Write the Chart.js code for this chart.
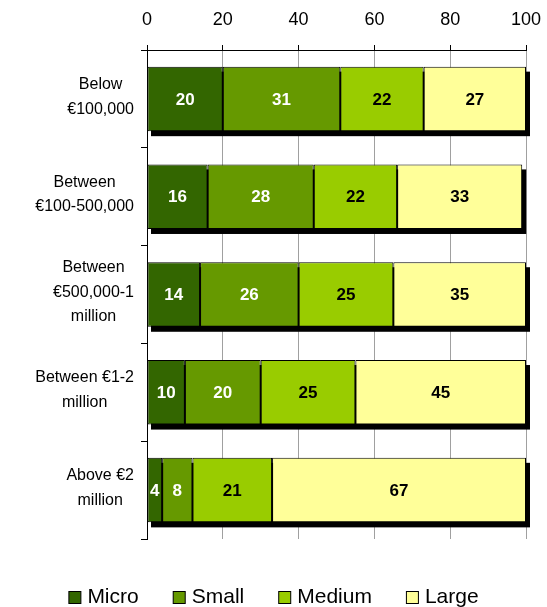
<!DOCTYPE html>
<html lang="en">
<head>
<meta charset="UTF-8">
<title>Company size by turnover</title>
<script src="https://cdn.jsdelivr.net/npm/chart.js"></script>
<style>
    body { margin: 0; background: #ffffff; }
    #wrap { width: 547px; height: 607px; }
</style>
</head>
<body>
<div id="wrap"><canvas id="sizeChart" width="547" height="607"></canvas></div>
<script>
// turnover bands (multi-line labels)
const bands = [
    ['Below', '€100,000'],
    ['Between', '€100-500,000'],
    ['Between', '€500,000-1', 'million'],
    ['Between €1-2', 'million'],
    ['Above €2', 'million']
];
const sizeNames = ['Micro', 'Small', 'Medium', 'Large'];
const micro  = [20, 16, 14, 10, 4];
const small  = [31, 28, 26, 20, 8];
const medium = [22, 22, 25, 25, 21];
const large  = [27, 33, 35, 45, 67];

const fills = ['#336600', '#669900', '#99cc00', '#ffff99'];
const labelColors = ['#ffffff', '#ffffff', '#000000', '#000000'];
const FONT = '"Liberation Sans", Arial, sans-serif';

// black drop shadow behind each stacked bar
const barShadow = {
    id: 'barShadow',
    beforeDatasetsDraw(chart) {
        const ctx = chart.ctx;
        const xs = chart.scales.x;
        const first = chart.getDatasetMeta(0);
        ctx.save();
        ctx.fillStyle = '#000000';
        first.data.forEach((bar, i) => {
            let total = 0;
            chart.data.datasets.forEach(ds => { total += ds.data[i]; });
            const x0 = xs.getPixelForValue(0);
            const x1 = xs.getPixelForValue(total);
            const h = bar.height;
            ctx.fillRect(x0 + 4, bar.y - h / 2 + 5, x1 - x0, h);
        });
        ctx.restore();
    }
};

// value written in the middle of each segment
const segmentLabels = {
    id: 'segmentLabels',
    afterDatasetsDraw(chart) {
        const ctx = chart.ctx;
        ctx.save();
        ctx.font = 'bold 17px ' + FONT;
        ctx.textAlign = 'center';
        ctx.textBaseline = 'middle';
        chart.data.datasets.forEach((ds, d) => {
            const meta = chart.getDatasetMeta(d);
            ctx.fillStyle = labelColors[d];
            meta.data.forEach((bar, i) => {
                const mid = (bar.x + bar.base) / 2;
                ctx.fillText(String(ds.data[i]), mid, bar.y + 1);
            });
        });
        ctx.restore();
    }
};

// percentage ticks above the top axis line
const topTicks = {
    id: 'topTicks',
    afterDraw(chart) {
        const ctx = chart.ctx;
        const xs = chart.scales.x;
        ctx.save();
        ctx.font = '18px ' + FONT;
        ctx.fillStyle = '#000000';
        ctx.textAlign = 'center';
        ctx.textBaseline = 'middle';
        xs.ticks.forEach(t => {
            ctx.fillText(String(t.value), xs.getPixelForValue(t.value), xs.bottom - 30);
        });
        ctx.restore();
    }
};

// category names: a right-aligned block with each line centred inside it
const bandLabels = {
    id: 'bandLabels',
    afterDraw(chart) {
        const ctx = chart.ctx;
        const ys = chart.scales.y;
        const right = ys.right - 13;
        const lh = 24.5;
        ctx.save();
        ctx.font = '16px ' + FONT;
        ctx.fillStyle = '#000000';
        ctx.textAlign = 'center';
        ctx.textBaseline = 'middle';
        chart.data.labels.forEach((lines, i) => {
            const w = Math.max(...lines.map(t => ctx.measureText(t).width));
            const cx = right - w / 2;
            const cy = ys.getPixelForValue(i) - 2;
            lines.forEach((t, k) => {
                ctx.fillText(t, cx, cy + (k - (lines.length - 1) / 2) * lh);
            });
        });
        ctx.restore();
    }
};

// legend row along the bottom edge
const bottomLegend = {
    id: 'bottomLegend',
    afterDraw(chart) {
        const ctx = chart.ctx;
        const box = 12, gapText = 7, gapItem = 34;
        const y = chart.height - 10;
        ctx.save();
        ctx.font = '21px ' + FONT;
        ctx.textBaseline = 'middle';
        ctx.textAlign = 'left';
        const items = chart.data.datasets.map(ds => ({
            text: ds.label,
            fill: ds.backgroundColor,
            w: box + gapText + ctx.measureText(ds.label).width
        }));
        const total = items.reduce((s, it) => s + it.w, 0) + gapItem * (items.length - 1);
        let x = (chart.width - total) / 2;
        items.forEach(it => {
            ctx.fillStyle = it.fill;
            ctx.fillRect(x + 0.5, y - box / 2 + 0.5, box, box);
            ctx.strokeStyle = '#000000';
            ctx.lineWidth = 1;
            ctx.strokeRect(x + 0.5, y - box / 2 + 0.5, box, box);
            ctx.fillStyle = '#000000';
            ctx.fillText(it.text, x + box + gapText, y);
            x += it.w + gapItem;
        });
        ctx.restore();
    }
};

const seriesValues = [micro, small, medium, large];

new Chart(document.getElementById('sizeChart'), {
    type: 'bar',
    data: {
        labels: bands,
        datasets: sizeNames.map((name, k) => ({
            label: name,
            data: seriesValues[k],
            backgroundColor: fills[k],
            borderColor: '#000000',
            borderWidth: 1,
            borderSkipped: false,
            barPercentage: 0.66,
            categoryPercentage: 1
        }))
    },
    options: {
        indexAxis: 'y',
        responsive: false,
        animation: false,
        layout: { padding: { top: 45, right: 21, bottom: 68, left: 0 } },
        scales: {
            x: {
                position: 'top',
                stacked: true,
                min: 0,
                max: 100,
                afterFit(scale) { scale.paddingLeft = 0; scale.paddingRight = 0; },
                ticks: { stepSize: 20, display: false },
                grid: {
                    color: '#a0a0a0',
                    lineWidth: 1,
                    tickLength: 5,
                    tickColor: '#000000'
                },
                border: { color: '#000000', width: 1 }
            },
            y: {
                stacked: true,
                afterFit(scale) {
                    scale.width = 147;
                    scale.paddingTop = 0;
                    scale.paddingBottom = 0;
                },
                ticks: { display: false },
                grid: {
                    offset: true,
                    drawOnChartArea: false,
                    tickLength: 6,
                    tickColor: '#000000'
                },
                border: { color: '#000000', width: 1 }
            }
        },
        plugins: {
            legend: { display: false },
            tooltip: { enabled: false }
        }
    },
    plugins: [barShadow, segmentLabels, topTicks, bandLabels, bottomLegend]
});
</script>
</body>
</html>
